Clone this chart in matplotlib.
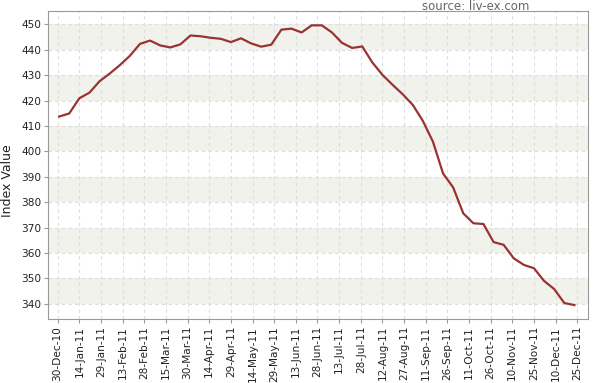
import numpy as np
import pandas as pd
import matplotlib
matplotlib.use("Agg")
import matplotlib.pyplot as plt
import matplotlib.dates as mdates

# weekly index values, 31-Dec-10 .. 23-Dec-11
dates = pd.date_range("2010-12-31", periods=52, freq="7D")
values = [
    413.7, 414.9, 420.9, 423.1, 427.6, 430.6, 433.9, 437.6, 442.3, 443.6,
    441.7, 440.9, 442.1, 445.6, 445.3, 444.7, 444.3, 443.0, 444.5, 442.5,
    441.2, 442.0, 447.9, 448.3, 446.8, 449.6, 449.6, 446.8, 442.7, 440.7,
    441.3, 435.0, 430.1, 426.2, 422.5, 418.3, 412.0, 403.8, 391.3, 385.8,
    375.6, 371.7, 371.4, 364.3, 363.2, 357.9, 355.3, 354.0, 349.0, 345.8,
    340.3, 339.5,
]
tick_dates = pd.date_range("2010-12-30", "2011-12-25", freq="15D")
y_ticks = list(range(340, 451, 10))

LINE_COLOR = "#993333"
BAND_COLOR = "#f2f2ec"
GRID_COLOR = "#dddddd"
AXIS_COLOR = "#999999"

fig = plt.figure(figsize=(5.95, 3.83), dpi=100)
ax = fig.add_axes([0.081, 0.167, 0.907, 0.804])

# alternating horizontal bands
for lo in range(340, 450, 20):
    ax.axhspan(lo, lo + 10, color=BAND_COLOR, zorder=0, lw=0)

ax.plot(dates, values, color=LINE_COLOR, lw=1.6, zorder=3)

ax.set_ylim(334, 455.2)
ax.set_yticks(y_ticks)
ax.set_xlim(pd.Timestamp("2010-12-23 10:00"), pd.Timestamp("2012-01-01 08:00"))
ax.set_xticks(tick_dates)
ax.xaxis.set_major_formatter(mdates.DateFormatter("%d-%b-%y"))
plt.setp(ax.get_xticklabels(), rotation=90)

ax.grid(True, color=GRID_COLOR, ls=(0, (3, 3)), lw=0.8, zorder=1)
ax.set_axisbelow(True)

for s in ax.spines.values():
    s.set_color(AXIS_COLOR)
ax.tick_params(colors=AXIS_COLOR, labelcolor="#222222", labelsize=7.6,
               length=3, width=0.8, pad=2)

ax.set_ylabel("Index Value", fontsize=9, color="#222222")
ax.yaxis.set_label_coords(-0.064, 0.45)

fig.text(0.80, 0.999, "source: liv-ex.com", ha="center", va="top",
         fontsize=8.5, color="#666666")

fig.savefig("out.png", dpi=100)
